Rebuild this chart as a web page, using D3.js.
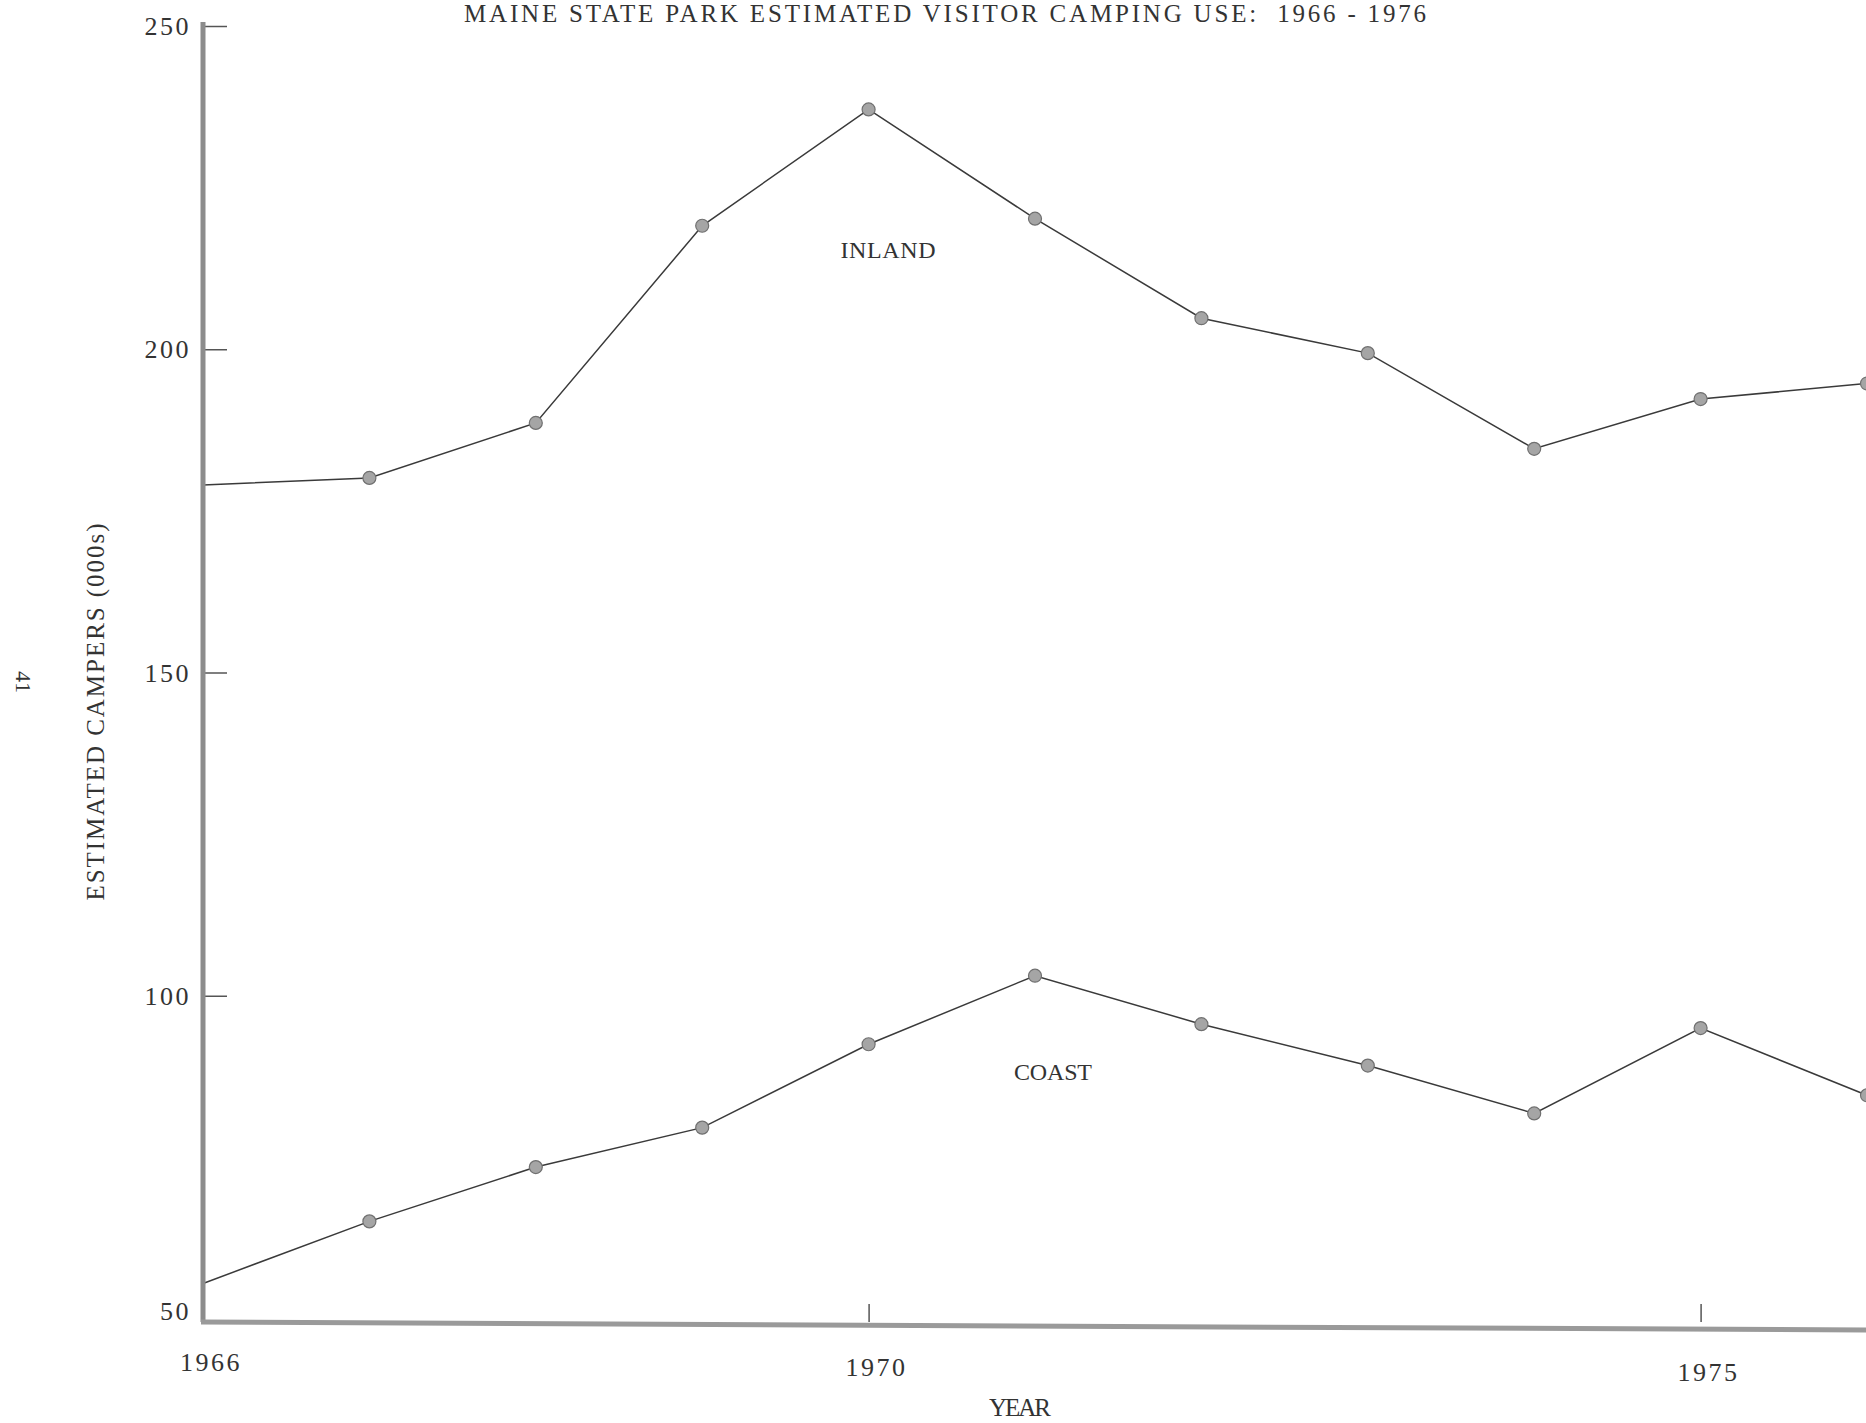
<!DOCTYPE html>
<html>
<head>
<meta charset="utf-8">
<script src="https://cdn.jsdelivr.net/npm/d3@7"></script>
<style>
    body { margin: 0; background: #fff; }
    #chart { width: 1866px; height: 1423px; }
    text { font-family: "Liberation Serif", "DejaVu Serif", serif; fill: #333; white-space: pre; }
</style>
</head>
<body>
<div id="chart"></div>
<script>
// values (thousands of campers)
const years = [1966, 1967, 1968, 1969, 1970, 1971, 1972, 1973, 1974, 1975, 1976];
const inland = [179.0, 180.1, 188.6, 219.1, 237.1, 220.2, 204.8, 199.4, 184.6, 192.3, 194.7];
const coast = [55.5, 65.1, 73.5, 79.6, 92.5, 103.1, 95.6, 89.2, 81.8, 95.0, 84.6];
const yTicks = [250, 200, 150, 100, 50];
const xTicks = [1966, 1970, 1975];
const xTickMarks = [1970, 1975];

class CampingChart {

    constructor(parentElement) {
        this.parentElement = parentElement;
        this.initVis();
    }

    initVis() {
        let vis = this;
        vis.width = 1866;
        vis.height = 1423;

        vis.svg = d3.select("#" + vis.parentElement).append("svg")
            .attr("width", vis.width)
            .attr("height", vis.height);

        vis.x = d3.scaleLinear().domain([1966, 1976]).range([203, 1867]);
        vis.y = d3.scaleLinear().domain([50, 250]).range([1319, 26]);

        vis.series = [
            {name: "INLAND", values: inland, lx: 888, ly: 250, w: 95},
            {name: "COAST", values: coast, lx: 1053, ly: 1072, w: 78}
        ];

        vis.drawText();
        vis.drawLines();
        vis.drawAxes();
    }

    drawText() {
        let vis = this;

        vis.svg.append("text")
            .attr("x", 945).attr("y", 22)
            .attr("text-anchor", "middle")
            .attr("font-size", 25)
            .attr("textLength", 962)
            .attr("lengthAdjust", "spacing")
            .text("MAINE STATE PARK ESTIMATED VISITOR CAMPING USE:  1966 - 1976");

        vis.svg.append("text")
            .attr("transform", "translate(104, 712) rotate(-90)")
            .attr("text-anchor", "middle")
            .attr("font-size", 25)
            .attr("textLength", 377)
            .attr("lengthAdjust", "spacing")
            .text("ESTIMATED CAMPERS (000s)");

        vis.svg.append("text")
            .attr("x", 1020).attr("y", 1416)
            .attr("text-anchor", "middle")
            .attr("font-size", 25)
            .attr("textLength", 62)
            .attr("lengthAdjust", "spacing")
            .text("YEAR");

        // page number, rotated with the scan
        vis.svg.append("text")
            .attr("transform", "translate(16, 682) rotate(90)")
            .attr("text-anchor", "middle")
            .attr("font-size", 22)
            .attr("fill", "#666")
            .text("41");

        vis.svg.selectAll(".series_label")
            .data(vis.series)
            .enter()
            .append("text")
            .attr("class", "series_label")
            .attr("x", d => d.lx)
            .attr("y", d => d.ly)
            .attr("dy", "0.35em")
            .attr("text-anchor", "middle")
            .attr("font-size", 24)
            .attr("textLength", d => d.w)
            .attr("lengthAdjust", "spacing")
            .text(d => d.name);
    }

    drawLines() {
        let vis = this;

        let line = d3.line()
            .x((d, i) => vis.x(years[i]))
            .y(d => vis.y(d));

        vis.svg.selectAll(".series_line")
            .data(vis.series)
            .enter()
            .append("path")
            .attr("class", "series_line")
            .attr("d", d => line(d.values))
            .attr("fill", "none")
            .attr("stroke", "#3a3a3a")
            .attr("stroke-width", 1.5);

        vis.series.forEach(function (s) {
            let pts = s.values.map((v, i) => [years[i], v]).filter(p => p[0] > 1966);
            vis.svg.selectAll(".dot_" + s.name)
                .data(pts)
                .enter()
                .append("circle")
                .attr("class", "dot_" + s.name)
                .attr("cx", d => vis.x(d[0]))
                .attr("cy", d => vis.y(d[1]))
                .attr("r", 6.5)
                .attr("fill", "#a5a5a5")
                .attr("stroke", "#707070")
                .attr("stroke-width", 1.2);
        });
    }

    drawAxes() {
        let vis = this;
        let x0 = vis.x(1966);
        let yBase = vis.y(50) + 3;

        // y axis
        let yAxis = d3.axisRight(vis.y)
            .tickValues(yTicks.filter(t => t > 50))
            .tickSize(24)
            .tickFormat("");
        let yg = vis.svg.append("g")
            .attr("transform", `translate(${x0}, 0)`)
            .call(yAxis);
        yg.select(".domain").remove();
        yg.selectAll(".tick line").attr("stroke", "#555").attr("stroke-width", 1.5);

        vis.svg.selectAll(".y_label")
            .data(yTicks)
            .enter()
            .append("text")
            .attr("class", "y_label")
            .attr("x", x0 - 12)
            .attr("y", d => vis.y(d) - (d === 50 ? 8 : 0))
            .attr("dy", "0.35em")
            .attr("text-anchor", "end")
            .attr("font-size", 26)
            .attr("letter-spacing", 2.5)
            .attr("fill", "#444")
            .text(d => d);

        // x axis
        let xAxis = d3.axisTop(vis.x)
            .tickValues(xTickMarks)
            .tickSize(18)
            .tickFormat("");
        let xg = vis.svg.append("g")
            .attr("transform", `translate(0, ${yBase})`)
            .call(xAxis);
        xg.select(".domain").remove();
        xg.selectAll(".tick line").attr("stroke", "#555").attr("stroke-width", 1.5);

        vis.svg.selectAll(".x_label")
            .data(xTicks)
            .enter()
            .append("text")
            .attr("class", "x_label")
            .attr("x", d => vis.x(d) + 8)
            .attr("y", (d, i) => yBase + 40 + i * 5)
            .attr("dy", "0.35em")
            .attr("text-anchor", "middle")
            .attr("font-size", 26)
            .attr("letter-spacing", 2.5)
            .attr("fill", "#444")
            .text(d => d);

        // heavy axis rules, grey like the scan
        vis.svg.append("line")
            .attr("x1", x0).attr("x2", x0)
            .attr("y1", 22).attr("y2", yBase)
            .attr("stroke", "#8c8c8c")
            .attr("stroke-width", 5);
        vis.svg.append("line")
            .attr("x1", x0 - 2).attr("x2", vis.width)
            .attr("y1", yBase).attr("y2", yBase + 8)
            .attr("stroke", "#9a9a9a")
            .attr("stroke-width", 5);
    }
}

new CampingChart("chart");
</script>
</body>
</html>
